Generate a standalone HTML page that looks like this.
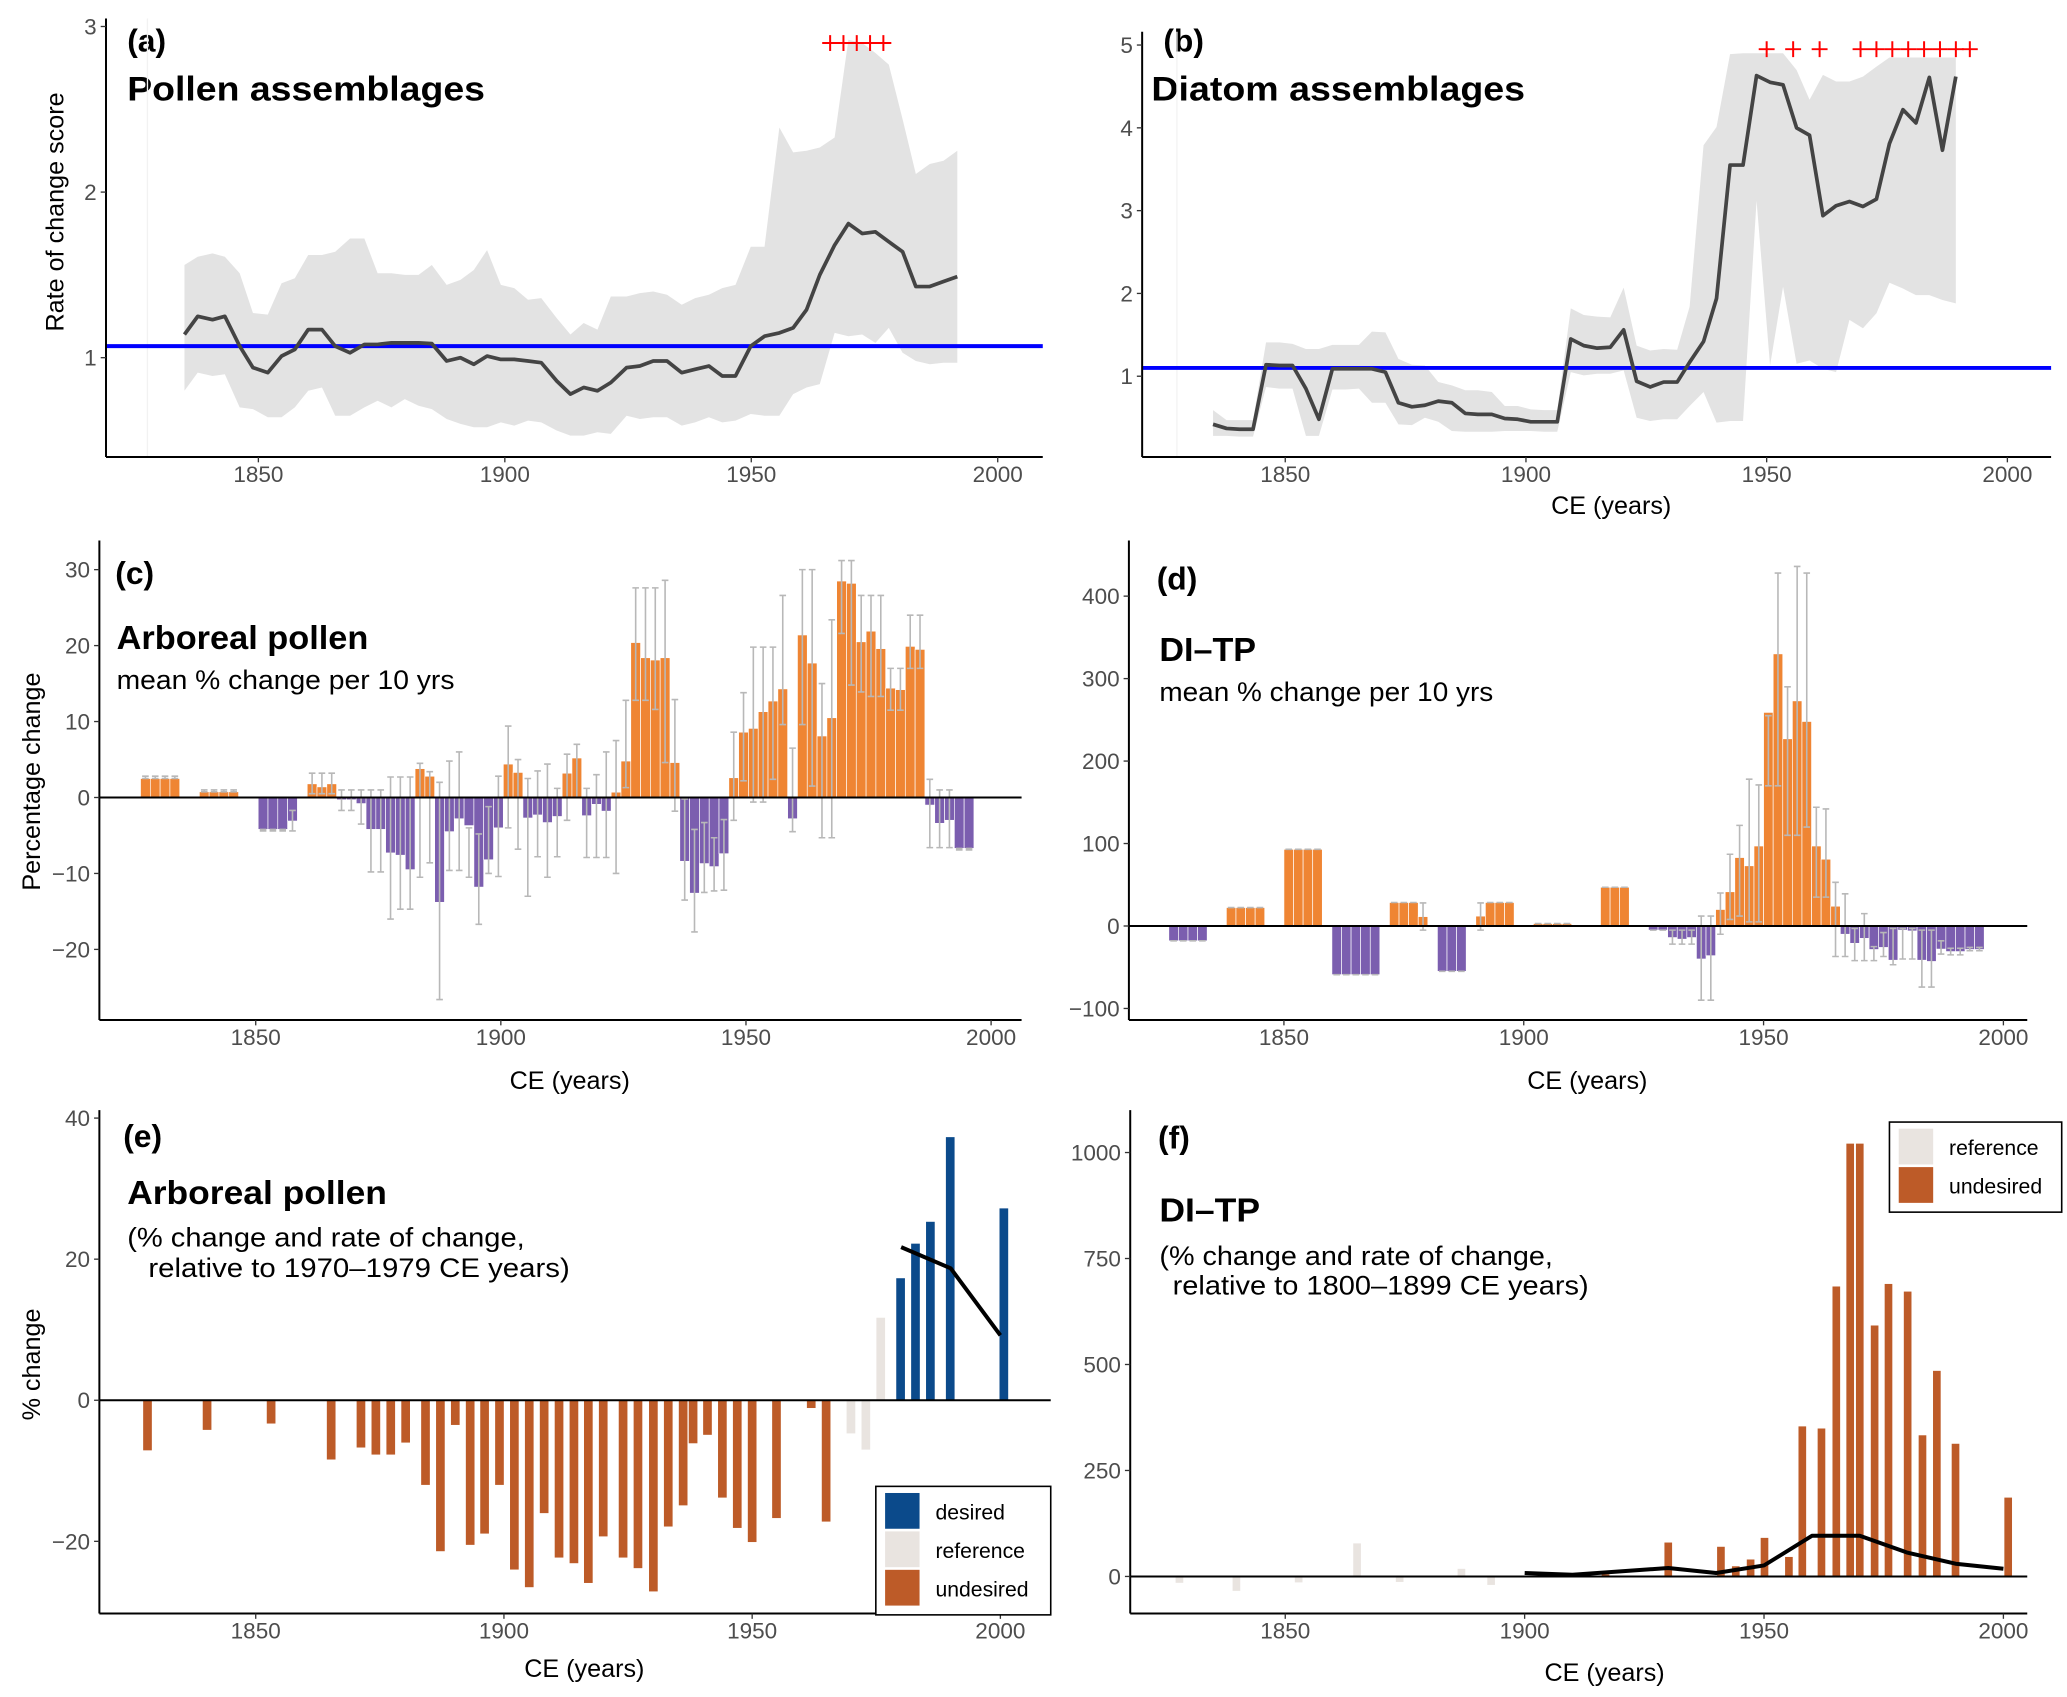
<!DOCTYPE html>
<html><head><meta charset="utf-8"><style>
html,body{margin:0;padding:0;background:#fff;}
svg{display:block;font-family:"Liberation Sans",sans-serif;}
</style></head><body>
<svg id="fig" width="2067" height="1697" viewBox="0 0 1560 1281" preserveAspectRatio="none" xmlns="http://www.w3.org/2000/svg">
<rect width="1560" height="1281" fill="#fff"/>
<g font-weight="bold" fill="#000">
<text x="96" y="39" font-size="24">(a)</text>
<text x="96" y="76" font-size="26" textLength="270" lengthAdjust="spacingAndGlyphs">Pollen assemblages</text>
<text x="878" y="39" font-size="24">(b)</text>
<text x="869" y="76" font-size="26" textLength="282" lengthAdjust="spacingAndGlyphs">Diatom assemblages</text>
<text x="87" y="441" font-size="24">(c)</text>
<text x="88" y="490" font-size="25" textLength="190" lengthAdjust="spacingAndGlyphs">Arboreal pollen</text>
<text x="873" y="445" font-size="24">(d)</text>
<text x="875" y="499" font-size="25" textLength="73" lengthAdjust="spacingAndGlyphs">DI–TP</text>
<text x="93" y="866" font-size="24">(e)</text>
<text x="96" y="909" font-size="25" textLength="196" lengthAdjust="spacingAndGlyphs">Arboreal pollen</text>
<text x="874" y="867" font-size="24">(f)</text>
<text x="875" y="922" font-size="25" textLength="76" lengthAdjust="spacingAndGlyphs">DI–TP</text>
</g>
<g fill="#000" font-size="20">
<text x="88" y="520" textLength="255" lengthAdjust="spacingAndGlyphs">mean % change per 10 yrs</text>
<text x="875" y="529" textLength="252" lengthAdjust="spacingAndGlyphs">mean % change per 10 yrs</text>
<text x="96" y="941" textLength="300" lengthAdjust="spacingAndGlyphs">(% change and rate of change,</text>
<text x="112" y="964" textLength="318" lengthAdjust="spacingAndGlyphs">relative to 1970–1979 CE years)</text>
<text x="875" y="955" textLength="297" lengthAdjust="spacingAndGlyphs">(% change and rate of change,</text>
<text x="885" y="977" textLength="314" lengthAdjust="spacingAndGlyphs">relative to 1800–1899 CE years)</text>
</g>
<g fill="#000" font-size="19" text-anchor="middle">
<text transform="translate(48,160) rotate(-90)">Rate of change score</text>
<text transform="translate(30,590) rotate(-90)">Percentage change</text>
<text transform="translate(30,1030) rotate(-90)">% change</text>
<text x="1216" y="388">CE (years)</text>
<text x="430" y="822">CE (years)</text>
<text x="1198" y="822">CE (years)</text>
<text x="441" y="1266">CE (years)</text>
<text x="1211" y="1269">CE (years)</text>
</g>
</svg>
<script>
const aYears=[1835,1837.7,1840.7,1843.2,1846.2,1848.9,1851.9,1854.7,1857.4,1860.1,1862.9,1865.6,1868.6,1871.5,1874.2,1877,1879.7,1882.5,1885.2,1888.2,1891,1893.7,1896.4,1899.2,1901.9,1904.7,1907.4,1910.5,1913.3,1916,1918.8,1921.5,1924.7,1927.4,1930.1,1932.9,1935.9,1938.6,1941.4,1944.1,1946.8,1949.9,1952.7,1955.7,1958.5,1961.2,1963.9,1966.9,1969.7,1972.5,1975.2,1977.9,1980.7,1983.4,1986.2,1989,1991.8];
const aMid=[1.14,1.25,1.23,1.25,1.07,0.94,0.91,1.01,1.05,1.17,1.17,1.07,1.03,1.08,1.08,1.09,1.09,1.09,1.085,0.98,1.0,0.96,1.01,0.99,0.99,0.98,0.97,0.86,0.78,0.82,0.80,0.85,0.94,0.95,0.98,0.98,0.91,0.93,0.95,0.89,0.89,1.07,1.13,1.15,1.18,1.29,1.5,1.68,1.81,1.75,1.76,1.70,1.64,1.43,1.43,1.46,1.49];
const aUpper=[1.56,1.61,1.63,1.61,1.51,1.27,1.26,1.45,1.48,1.62,1.62,1.64,1.72,1.72,1.51,1.51,1.50,1.50,1.56,1.44,1.47,1.53,1.65,1.44,1.42,1.35,1.36,1.24,1.14,1.21,1.17,1.37,1.37,1.39,1.40,1.38,1.32,1.36,1.38,1.42,1.44,1.67,1.67,2.39,2.24,2.25,2.27,2.33,2.92,2.90,2.84,2.77,2.44,2.11,2.17,2.19,2.25];
const aLower=[0.80,0.91,0.89,0.90,0.70,0.69,0.64,0.64,0.70,0.80,0.82,0.65,0.65,0.70,0.74,0.70,0.75,0.71,0.69,0.63,0.60,0.58,0.58,0.61,0.59,0.62,0.61,0.56,0.53,0.53,0.55,0.54,0.65,0.63,0.64,0.64,0.59,0.61,0.64,0.61,0.62,0.66,0.65,0.65,0.78,0.82,0.84,1.15,1.13,1.14,1.09,1.18,1.03,0.98,0.96,0.97,0.97];
const aSig=[1966,1968.7,1971.4,1974.1,1976.8];
const aRef=1.07;
const bYears=[1835,1837.8,1840.5,1843.3,1846,1848.8,1851.5,1854.3,1857,1859.8,1862.5,1865.3,1868,1870.8,1873.5,1876.3,1879,1881.8,1884.6,1887.4,1890,1892.9,1895.6,1898.3,1901,1903.8,1906.5,1909.3,1912,1914.8,1917.5,1920.3,1923,1925.8,1928.6,1931.4,1934,1936.9,1939.6,1942.4,1945.1,1947.9,1950.7,1953.4,1956.2,1958.9,1961.7,1964.4,1967.2,1970,1972.8,1975.5,1978.3,1981,1983.8,1986.5,1989.3];
const bMid=[0.42,0.37,0.36,0.36,1.14,1.13,1.13,0.85,0.48,1.09,1.09,1.09,1.09,1.05,0.68,0.63,0.65,0.70,0.68,0.55,0.54,0.54,0.49,0.48,0.45,0.45,0.45,1.45,1.37,1.34,1.35,1.56,0.94,0.87,0.93,0.93,1.17,1.42,1.94,3.55,3.55,4.63,4.55,4.52,4.0,3.91,2.94,3.06,3.11,3.05,3.14,3.81,4.22,4.06,4.61,3.73,4.62];
const bUpper=[0.59,0.47,0.47,0.47,1.41,1.41,1.39,1.33,1.33,1.38,1.38,1.38,1.54,1.53,1.21,1.14,1.13,0.93,0.89,0.83,0.83,0.81,0.64,0.64,0.60,0.59,0.59,1.82,1.74,1.72,1.71,2.07,1.37,1.31,1.33,1.32,1.84,3.79,4.01,4.89,4.9,4.9,4.9,4.9,4.70,4.34,4.64,4.56,4.56,4.62,4.74,4.85,4.85,4.85,4.85,4.85,4.85];
const bLower=[0.28,0.28,0.27,0.27,0.87,0.85,0.85,0.28,0.28,0.84,0.84,0.85,0.68,0.68,0.42,0.41,0.50,0.45,0.34,0.33,0.33,0.33,0.34,0.34,0.34,0.33,0.33,1.05,1.01,1.03,1.03,1.07,0.50,0.46,0.48,0.48,0.64,0.81,0.44,0.46,0.46,3.12,1.13,2.08,1.15,1.19,1.09,1.05,1.68,1.58,1.76,2.13,2.06,1.98,1.98,1.92,1.88];
const bSig=[1950,1955.5,1961,1969.5,1972.8,1976.1,1979.4,1982.7,1986,1989.3,1992.2];
const bRef=1.1;
const cYears=[1826.5,1828.5,1830.5,1832.5,1838.5,1840.5,1842.5,1844.5,1850.5,1852.5,1854.5,1856.5,1860.5,1862.5,1864.5,1866.5,1868.5,1870.5,1872.5,1874.5,1876.5,1878.5,1880.5,1882.5,1884.5,1886.5,1888.5,1890.5,1892.5,1894.5,1896.5,1898.5,1900.5,1902.5,1904.5,1906.5,1908.5,1910.5,1912.5,1914.5,1916.5,1918.5,1920.5,1922.5,1924.5,1926.5,1928.5,1930.5,1932.5,1934.5,1936.5,1938.5,1940.5,1942.5,1944.5,1946.5,1948.5,1950.5,1952.5,1954.5,1956.5,1958.5,1960.5,1962.5,1964.5,1966.5,1968.5,1970.5,1972.5,1974.5,1976.5,1978.5,1980.5,1982.5,1984.5,1986.5,1988.5,1990.5,1992.5,1994.5];
const cVals=[2.5,2.5,2.5,2.5,0.75,0.75,0.75,0.75,-4.2,-4.2,-4.2,-3.1,1.8,1.4,1.8,-0.3,-0.3,-0.8,-4.2,-4.2,-7.3,-7.6,-9.5,3.8,2.8,-13.8,-4.5,-2.8,-3.7,-11.8,-8.2,-4,4.4,3.3,-2.7,-2.3,-3.3,-2.5,3.2,5.2,-2.4,-0.9,-1.8,0.7,4.8,20.4,18.4,18.1,18.4,4.6,-8.4,-12.6,-8.7,-9.1,-7.4,2.6,8.6,9.1,11.3,12.7,14.3,-2.8,21.4,17.7,8.1,10.5,28.5,28.2,20.5,21.9,19.6,14.4,14.2,19.9,19.5,-1.0,-3.4,-3.0,-6.7,-6.7];
const cHi=[2.8,2.8,2.8,2.8,1.0,1.0,1.0,1.0,-4.2,-4.2,-4.2,-1.7,3.2,3.2,3.2,1,1,1,1,1,2.7,2.7,2.7,4.5,3.4,2,4.8,6,-4,-4.8,-1.2,2.8,9.4,5,2.5,3.5,4.4,1.2,5.7,7,1.2,3,6,7.5,12.8,27.6,27.6,27.6,28.6,12.9,-0.2,-4.2,-3.3,-5.3,-2.9,8.6,13.8,19.8,19.8,19.8,26.6,6.5,30,30,15,23.4,31.2,31.2,26.6,26.6,26.6,17,17,24,24,2.4,1,1,-6.7,-6.7];
const cLo=[2.5,2.5,2.5,2.5,0.75,0.75,0.75,0.75,-4.4,-4.4,-4.4,-4.4,0.5,0.5,0.5,-1.7,-1.7,-3.5,-9.8,-9.8,-16,-14.7,-14.7,-10.5,-8.6,-26.6,-9.6,-9.6,-10.5,-16.7,-10,-10.4,-4,-6.8,-13,-7.8,-10.5,-7.8,-3,0,-7.9,-7.9,-7.9,-10,1.3,12.8,12.8,11.6,4.6,-1.8,-13.5,-17.7,-12.5,-12.3,-12.2,-3,2.2,-0.6,-0.6,2.4,9.6,-4.5,9.6,1.5,-5.3,-5.3,21.6,14.8,13.9,13.3,13.3,11.5,11.5,17,17,-6.6,-6.6,-6.6,-6.9,-6.9];
const dYears=[1826,1828,1830,1832,1838,1840,1842,1844,1850,1852,1854,1856,1860,1862,1864,1866,1868,1872,1874,1876,1878,1882,1884,1886,1890,1892,1894,1896,1902,1904,1906,1908,1916,1918,1920,1926,1928,1930,1932,1934,1936,1938,1940,1942,1944,1946,1948,1950,1952,1954,1956,1958,1960,1962,1964,1966,1968,1970,1972,1974,1976,1978,1980,1982,1984,1986,1988,1990,1992,1994];
const dVals=[-18,-18,-18,-18,22.4,22.4,22.4,22.4,93,93,93,93,-59,-59,-59,-59,-59,28.5,28.5,28.5,11.4,-55,-55,-55,12,28.5,28.5,28.5,3,3,3,3,47,47,47,-5,-5,-14,-16,-14,-40,-36,20,41.5,83,73,97,259,330,227,273,248,97,81,24,-10,-21,-15,-28.5,-26,-41.5,-5,-6,-41.5,-43,-28,-31,-31,-28.5,-28.5];
const dHi=[-18,-18,-18,-18,22.4,22.4,22.4,22.4,93,93,93,93,-59,-59,-59,-59,-59,28.5,28.5,28.5,28,-55,-55,-55,28,28.5,28.5,28.5,3,3,3,3,47,47,47,-5,-5,-5,-5,-5,12,12,40,87,122,178,171,255,428,290,436,428,144,142,53,39,-3,15,-25,-8,-3,-3,-3,-5,-5,-18,-27,-27,-26,-26];
const dLo=[-18,-18,-18,-18,22.4,22.4,22.4,22.4,93,93,93,93,-59,-59,-59,-59,-59,28.5,28.5,28.5,-5,-55,-55,-55,-5,28.5,28.5,28.5,3,3,3,3,47,47,47,-5,-5,-22,-22,-22,-90,-90,-10,8,12,5,5,170,170,110,110,120,35,35,-37,-37,-42,-42,-42,-37,-47,-40,-40,-74,-74,-34,-35,-35,-30,-30];
const eYears=[1828.2,1840.2,1853.1,1865.2,1871.2,1874.2,1877.2,1880.2,1884.2,1887.2,1890.2,1893.2,1896.1,1899.1,1902.1,1905.1,1908.1,1911.1,1914.1,1917,1920,1924,1927,1930.1,1933.1,1936.1,1938.1,1941,1944,1947,1950,1954.9,1961.9,1964.9,1969.9,1972.9,1975.9,1979.9,1982.9,1985.9,1989.9,2000.7];
const eVals=[-7.1,-4.2,-3.3,-8.4,-6.7,-7.7,-7.7,-6.0,-12.0,-21.4,-3.5,-20.5,-18.9,-12.0,-24.0,-26.5,-16.0,-22.3,-23.1,-25.9,-19.3,-22.3,-23.8,-27.1,-17.9,-14.9,-6.1,-4.9,-13.8,-18.1,-20.1,-16.7,-1.1,-17.2,-4.7,-7.0,11.7,17.3,22.2,25.3,37.3,27.2];
const eCats=["u","u","u","u","u","u","u","u","u","u","u","u","u","u","u","u","u","u","u","u","u","u","u","u","u","u","u","u","u","u","u","u","u","u","r","r","r","d","d","d","d","d"];
const eLineYears=[1980,1990,2000];
const eLineVals=[21.7,18.7,9.2];
const fYears=[1827.9,1839.8,1852.8,1865,1873.9,1886.8,1893,1916.9,1930,1941,1944.1,1947.2,1950.1,1955.2,1958,1962,1965.1,1968,1970,1973.1,1976,1980,1983.1,1986.1,1990,2001];
const fVals=[-15,-34,-14,78,-13,18,-20,5,80,70,24,40,91,46,354,349,684,1021,1021,592,690,672,333,485,313,186];
const fCats=["r","r","r","r","r","r","r","u","u","u","u","u","u","u","u","u","u","u","u","u","u","u","u","u","u","u"];
const fLineYears=[1900,1910,1920,1930,1940,1950,1960,1970,1980,1990,2000];
const fLineVals=[8,4,12,20,8,26,96,96,56,30,18];

const NS="http://www.w3.org/2000/svg";
const svg=document.getElementById("fig");
function mk(tag,attrs,parent){const e=document.createElementNS(NS,tag);for(const k in attrs)e.setAttribute(k,attrs[k]);(parent||svg).appendChild(e);return e;}
function lin(d0,r0,d1,r1){return v=>r0+(v-d0)*(r1-r0)/(d1-d0);}
function fmt(v){return v<0?"\u2212"+(-v):String(v);}

function axes(name,left,right,top,bottom,xs,ys,xt,yt){
  const g=mk("g",{});
  
  
  const yl=mk("line",{x1:left,x2:left,y1:top,y2:bottom,stroke:"#000","stroke-width":1.5},g);
  
  
  const xl=mk("line",{x1:left,x2:right,y1:bottom,y2:bottom,stroke:"#000","stroke-width":1.5},g);
  
  
  xt.forEach(t=>{const x=xs(t);
    mk("line",{x1:x,x2:x,y1:bottom,y2:bottom+4,stroke:"#333","stroke-width":1},g);
    const tx=mk("text",{x:x,y:bottom+19,"text-anchor":"middle","font-size":17,fill:"#4d4d4d"},g);
    tx.textContent=t;
    
    });
  yt.forEach(t=>{const y=ys(t);
    mk("line",{x1:left-4,x2:left,y1:y,y2:y,stroke:"#333","stroke-width":1},g);
    const tx=mk("text",{x:left-7,y:y+6,"text-anchor":"end","font-size":17,fill:"#4d4d4d"},g);
    tx.textContent=fmt(t);
    
    });
}
function polyPts(xsArr,vals,xs,ys){return xsArr.map((x,i)=>xs(x).toFixed(1)+","+ys(vals[i]).toFixed(1)).join(" ");}

function roc(name,left,right,top,bottom,xs,ys,years,mid,up,lo,sig,sigV,ref,yt){
  const band=polyPts(years,up,xs,ys)+" "+polyPts(years.slice().reverse(),lo.slice().reverse(),xs,ys);
  mk("line",{x1:xs(1827.5),x2:xs(1827.5),y1:top,y2:bottom,stroke:"#f2f2f2","stroke-width":1});
  const b=mk("polygon",{points:band,fill:"#e3e3e3"});
  
  
  const r=mk("line",{x1:left,x2:right,y1:ys(ref),y2:ys(ref),stroke:"#0000ff","stroke-width":3});
  
  
  const l=mk("polyline",{points:polyPts(years,mid,xs,ys),fill:"none",stroke:"#444","stroke-width":2.8,"stroke-linejoin":"round"});
  
  
  sig.forEach(s=>{const x=xs(s),y=ys(sigV);
    const p=mk("path",{d:`M${x-6},${y}H${x+6}M${x},${y-6}V${y+6}`,stroke:"#ff0000","stroke-width":1.5});
    
    });
  axes(name,left,right,top,bottom,xs,ys,[1850,1900,1950,2000],yt);
}

const axA=lin(1850,195,2000,753), ayA=lin(1,270,3,20);
roc("panel-a",80,787,14,345,axA,ayA,aYears,aMid,aUpper,aLower,aSig,2.9,aRef,[1,2,3]);
const axB=lin(1850,970,2000,1515), ayB=lin(1,284,5,34);
roc("panel-b",862,1548,24,345,axB,ayB,bYears,bMid,bUpper,bLower,bSig,4.95,bRef,[1,2,3,4,5]);

function pctBars(name,left,right,top,bottom,xs,ys,years,vals,hi,lo,w,yt){
  years.forEach((y,i)=>{const v=vals[i];const x0=xs(y),x1=xs(y+w);
    const r=mk("rect",{x:x0,y:Math.min(ys(v),ys(0)),width:x1-x0,height:Math.abs(ys(v)-ys(0)),fill:v>=0?"#ef8533":"#7b5eaf",stroke:"#fff","stroke-width":0.5});
    
    
    const xc=(x0+x1)/2;
    const e=mk("path",{d:`M${xc},${ys(hi[i])}V${ys(lo[i])}M${xc-2.5},${ys(hi[i])}H${xc+2.5}M${xc-2.5},${ys(lo[i])}H${xc+2.5}`,stroke:"#b8b8b8","stroke-width":1.2,fill:"none"});
    
    });
  const z=mk("line",{x1:left,x2:right,y1:ys(0),y2:ys(0),stroke:"#000","stroke-width":1.5});
  
  
  axes(name,left,right,top,bottom,xs,ys,[1850,1900,1950,2000],yt);
}
const axC=lin(1850,193,2000,748), ayC=lin(0,602,30,430);
pctBars("panel-c",75,771,408,770,axC,ayC,cYears,cVals,cHi,cLo,2,[30,20,10,0,-10,-20]);
const axD=lin(1850,969,2000,1512), ayD=lin(0,699,400,450);
pctBars("panel-d",852,1530,408,770,axD,ayD,dYears,dVals,dHi,dLo,2,[400,300,200,100,0,-100]);

const catCol={d:"#0b4a8b",r:"#e9e4e0",u:"#bd5b28"};
function catBars(name,left,right,top,bottom,xs,ys,years,vals,cats,w,ly,lv,yt){
  years.forEach((y,i)=>{const v=vals[i];const x0=xs(y-w/2),x1=xs(y+w/2);
    const r=mk("rect",{x:x0,y:Math.min(ys(v),ys(0)),width:x1-x0,height:Math.abs(ys(v)-ys(0)),fill:catCol[cats[i]]});
    
    });
  const z=mk("line",{x1:left,x2:right,y1:ys(0),y2:ys(0),stroke:"#000","stroke-width":1.5});
  
  
  const l=mk("polyline",{points:polyPts(ly,lv,xs,ys),fill:"none",stroke:"#000","stroke-width":3,"stroke-linejoin":"round"});
  
  
  axes(name,left,right,top,bottom,xs,ys,[1850,1900,1950,2000],yt);
}
const axE=lin(1850,193,2000,755), ayE=lin(0,1057,40,844);
catBars("panel-e",75,793,838,1218,axE,ayE,eYears,eVals,eCats,1.75,eLineYears,eLineVals,[40,20,0,-20]);
const axF=lin(1850,970,2000,1512), ayF=lin(0,1190,1000,870);
catBars("panel-f",853,1530,838,1218,axF,ayF,fYears,fVals,fCats,1.6,fLineYears,fLineVals,[0,250,500,750,1000]);

function legend(name,x,y,w,items){
  const g=mk("g",{});
  
  
  mk("rect",{x:x,y:y,width:w,height:items.length*29+10,fill:"#fff",stroke:"#000","stroke-width":1.2},g);
  items.forEach((it,i)=>{
    const k=mk("rect",{x:x+7,y:y+5+i*29,width:26,height:27,fill:catCol[it[0]]},g);
    
    
    const t=mk("text",{x:x+45,y:y+25+i*29,"font-size":16,fill:"#000"},g);
    t.textContent=it[1];
    
    });
}
legend("panel-e-legend",661,1122,132,[["d","desired"],["r","reference"],["u","undesired"]]);
legend("panel-f-legend",1426,847,130,[["r","reference"],["u","undesired"]]);
</script>
</body></html>
